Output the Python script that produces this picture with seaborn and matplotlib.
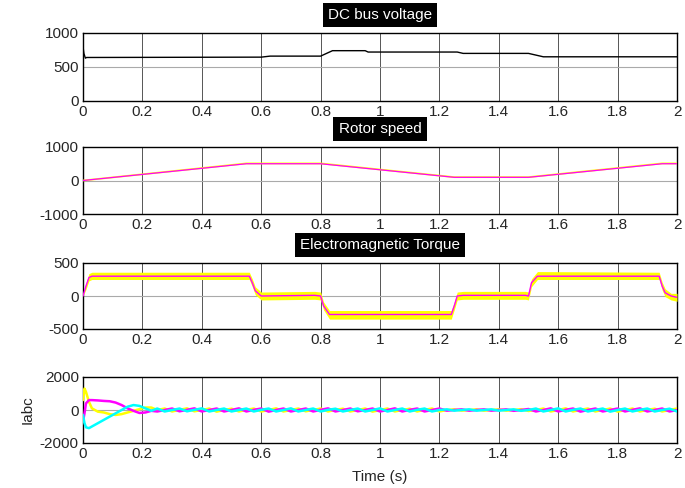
"""
plot.py

Recria a figura de simulação do acionamento (tensão do barramento CC,
velocidade do rotor, torque eletromagnético e correntes Iabc).
"""

import numpy as np
import pandas as pd
import matplotlib
matplotlib.use("Agg")
import matplotlib.pyplot as plt
from matplotlib.ticker import FormatStrFormatter
import seaborn as sns

# --- Tensão do barramento CC ---
t_dc = [0, 0.003, 0.008, 0.012, 0.6, 0.63, 0.8, 0.82, 0.84, 0.95, 0.96, 1.26, 1.28, 1.5, 1.55, 2.0]
v_dc = [800, 700, 630, 640, 645, 660, 660, 700, 740, 740, 720, 720, 700, 700, 650, 650]

# --- Velocidade do rotor ---
t_vel = [0, 0.55, 0.8, 1.25, 1.5, 1.95, 2.0]
vel_ref = [0, 510, 510, 100, 100, 510, 510]
vel_med = [0, 500, 500, 95, 95, 500, 500]

# --- Torque eletromagnético ---
t_tq = [0, 0.01, 0.02, 0.03, 0.56, 0.57, 0.58, 0.6, 0.78, 0.8, 0.81, 0.83,
        1.24, 1.25, 1.26, 1.28, 1.49, 1.5, 1.51, 1.53, 1.94, 1.95, 1.96, 1.98, 2.0]
tq_med = [0, 150, 280, 300, 300, 200, 80, 0, 10, 0, -150, -280,
          -280, -150, 0, 10, 10, 0, 200, 300, 300, 150, 50, 0, -20]
tq_sup = [20, 200, 340, 360, 360, 260, 140, 60, 70, 60, -90, -220,
          -220, -90, 60, 70, 70, 60, 260, 370, 360, 210, 110, 40, 40]
tq_inf = [0, 100, 230, 250, 250, 140, 20, -60, -50, -60, -210, -350,
          -350, -210, -60, -50, -50, -60, 140, 250, 250, 90, -10, -60, -80]

# --- Correntes Iabc ---
t_trans = [0, 0.005, 0.01, 0.02, 0.03, 0.05, 0.07, 0.09, 0.11, 0.13, 0.15, 0.17, 0.19, 0.21, 0.23]
t_osc = np.linspace(0.25, 2.0, 71)
ia_trans = [600, 1300, 1100, 500, 100, -100, -150, -250, -300, -250, -150, -50, 50, 150, 150]
ib_trans = [-700, -200, 400, 600, 600, 580, 550, 530, 450, 300, 100, -50, -180, -150, -50]
ic_trans = [-300, -800, -1050, -1100, -1000, -800, -600, -400, -200, 0, 200, 300, 250, 100, -50]
ia_osc = [0, 90, -90, 10, 100, -80, 0, 90, -100, 0,
          80, -90, 10, 90, -90, 0, 100, -90, 0, 90,
          -80, 0, 90, -90, 10, 80, -90, 0, 90, -100,
          0, 90, -90, 0, 80, -90, 10, 90, -90, 0,
          40, -40, 0, 40, -40, 0, 40, -40, 0, 50,
          -60, 0, 90, -90, 0, 100, -90, 10, 90, -90,
          0, 90, -100, 0, 90, -90, 10, 80, -90, 0,
          90]
ib_osc = [-90, 0, 90, -80, 10, 100, -90, 0, 90, -90,
          0, 100, -90, 10, 90, -100, 0, 90, -90, 0,
          90, -90, 10, 100, -90, 0, 90, -80, 0, 90,
          -90, 0, 100, -90, 10, 90, -90, 0, 90, -40,
          0, 40, -40, 0, 40, -40, 0, 40, -50, 0,
          60, -90, 0, 100, -90, 10, 90, -100, 0, 90,
          -90, 0, 90, -90, 10, 100, -90, 0, 90, -90,
          0]
ic_osc = [90, -90, 0, 90, -80, 10, 100, -90, 0, 90,
          -90, 0, 90, -90, 10, 90, -90, 0, 100, -90,
          0, 90, -90, 10, 80, -90, 0, 90, -90, 0,
          100, -90, 0, 90, -90, 10, 90, -90, 0, 40,
          -40, 0, 40, -40, 0, 40, -40, 0, 40, -50,
          0, 90, -90, 0, 100, -90, 10, 90, -90, 0,
          90, -100, 0, 90, -90, 10, 90, -90, 0, 80,
          -90]

AMARELO = "#FFFF00"
MAGENTA = "#FF00FF"
CIANO = "#00FFFF"


def formatar_eixo(ax, titulo, ylim, yticks, linha_ref):
    """Aplica o estilo de osciloscópio (grade, ticks, título em caixa preta)."""
    ax.set_xlim(0, 2)
    ax.set_ylim(*ylim)
    ax.set_xticks(np.arange(0, 2.01, 0.2))
    ax.set_yticks(yticks)
    ax.xaxis.set_major_formatter(FormatStrFormatter("%g"))
    ax.grid(True, color="#555555", linewidth=0.7)
    ax.axhline(linha_ref, color="#aaaaaa", linewidth=0.8, zorder=1)
    ax.tick_params(length=0, labelsize=11, pad=3)
    for lado in ax.spines.values():
        lado.set_color("black")
        lado.set_linewidth(1.0)
    ax.set_xlabel("")
    ax.set_ylabel("")
    if titulo:
        ax.set_title(titulo, color="white", fontsize=11, pad=10,
                     bbox=dict(boxstyle="square,pad=0.35", facecolor="black", edgecolor="none"))


def main() -> None:
    sns.set_style("white")
    plt.rcParams["font.family"] = ["Liberation Sans", "DejaVu Sans"]
    plt.rcParams["axes.unicode_minus"] = False

    fig = plt.figure(figsize=(6.85, 4.88), dpi=100)
    esq, larg = 83 / 685, (677 - 83) / 685
    pos = [(33, 101), (147, 214), (263, 329), (377, 443)]
    eixos = [fig.add_axes([esq, 1 - b / 488, larg, (b - t) / 488]) for t, b in pos]

    # DC bus
    ax = eixos[0]
    df = pd.DataFrame({"t": t_dc, "v": v_dc})
    sns.lineplot(data=df, x="t", y="v", ax=ax, color="black", linewidth=1.0, zorder=3)
    formatar_eixo(ax, "DC bus voltage", (0, 1000), [0, 500, 1000], 500)

    # Rotor speed
    ax = eixos[1]
    df = pd.DataFrame({"t": t_vel, "ref": vel_ref, "med": vel_med})
    sns.lineplot(data=df, x="t", y="ref", ax=ax, color=AMARELO, linewidth=1.3, zorder=3)
    sns.lineplot(data=df, x="t", y="med", ax=ax, color=MAGENTA, linewidth=0.9, zorder=4)
    formatar_eixo(ax, "Rotor speed", (-1000, 1000), [-1000, 0, 1000], 0)

    # Electromagnetic torque
    ax = eixos[2]
    df = pd.DataFrame({"t": t_tq, "med": tq_med, "sup": tq_sup, "inf": tq_inf})
    ax.fill_between(df["t"], df["inf"], df["sup"], color=AMARELO, linewidth=0, zorder=3)
    sns.lineplot(data=df, x="t", y="med", ax=ax, color=MAGENTA, linewidth=1.0, zorder=4)
    formatar_eixo(ax, "Electromagnetic Torque", (-500, 500), [-500, 0, 500], 0)

    # Iabc
    ax = eixos[3]
    t_cor = list(t_trans) + list(t_osc)
    df = pd.DataFrame({
        "t": t_cor,
        "ia": ia_trans + ia_osc,
        "ib": ib_trans + ib_osc,
        "ic": ic_trans + ic_osc,
    })
    sns.lineplot(data=df, x="t", y="ia", ax=ax, color=AMARELO, linewidth=1.8, zorder=3)
    sns.lineplot(data=df, x="t", y="ib", ax=ax, color=MAGENTA, linewidth=1.8, zorder=4)
    sns.lineplot(data=df, x="t", y="ic", ax=ax, color=CIANO, linewidth=1.8, zorder=5)
    formatar_eixo(ax, None, (-2000, 2000), [-2000, 0, 2000], 0)
    ax.set_xlabel("Time (s)", fontsize=11, labelpad=6)
    ax.set_ylabel("Iabc", fontsize=11, labelpad=4)

    fig.savefig("out.png", dpi=100)


if __name__ == "__main__":
    main()
